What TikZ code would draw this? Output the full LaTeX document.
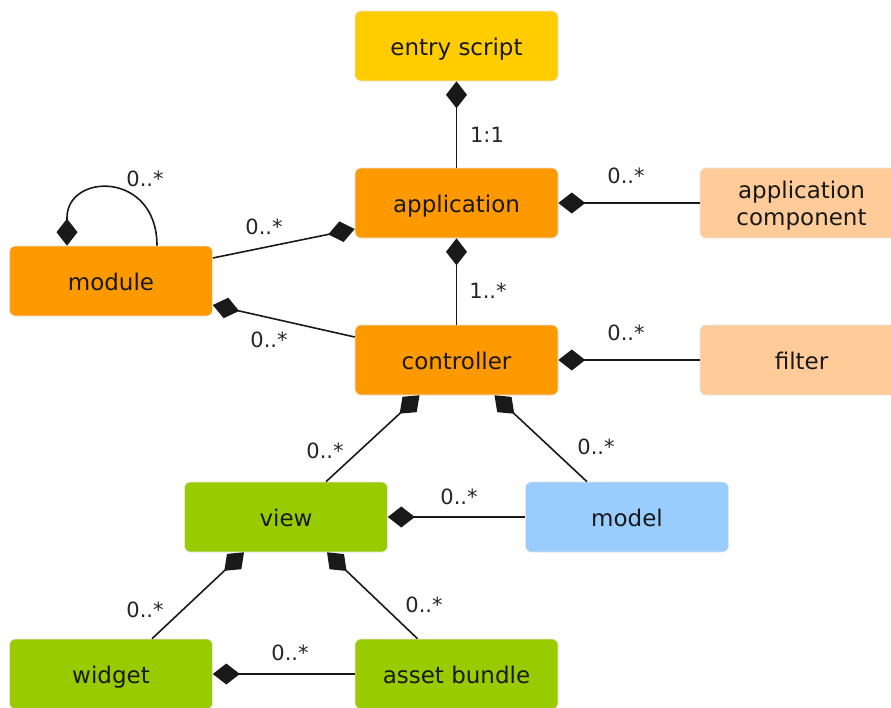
\documentclass[tikz,border=0pt]{standalone}
\usepackage{fontspec}
\setmainfont{DejaVu Sans}
\usetikzlibrary{arrows.meta}
\definecolor{cyellow}{HTML}{FFCC00}
\definecolor{corange}{HTML}{FF9900}
\definecolor{cpeach}{HTML}{FFCC99}
\definecolor{cgreen}{HTML}{99CC00}
\definecolor{cblue}{HTML}{99CCFF}
\begin{document}
\begin{tikzpicture}[x=1pt,y=-1pt,
  basebox/.style={rounded corners=6pt, minimum width=203pt, minimum height=70pt, inner sep=0pt,
    draw=black!10, line width=0.6pt, font=\fontsize{23}{27}\selectfont, text=black!90},
  box/.style={basebox, text height=19pt, text depth=0pt},
  lbl/.style={font=\fontsize{21}{24}\selectfont, inner sep=0pt, text=black!85},
  comp/.style={{Diamond[length=27pt,width=21pt]}-, line width=1.6pt, draw=black!90}]
\useasboundingbox (0,0) rectangle (891,707);
% boxes
\node[box, fill=cyellow] (entry) at (456.5,46) {entry script};
\node[box, fill=corange] (app) at (456.5,203) {application};
\node[basebox, fill=cpeach, align=center, text depth=0pt] (appcomp) at (801.5,203) {application\\component};
\node[box, fill=corange] (module) at (111,281) {module};
\node[box, fill=corange] (controller) at (456.5,360) {controller};
\node[box, fill=cpeach] (filter) at (801.5,360) {filter};
\node[box, fill=cgreen] (view) at (286,517) {view};
\node[box, fill=cblue] (model) at (627,517) {model};
\node[box, fill=cgreen] (widget) at (111,674) {widget};
\node[box, fill=cgreen] (asset) at (456.5,674) {asset bundle};
% connectors
\draw[comp] (entry.south) -- (app.north);
\draw[comp] (app.east) -- (appcomp.west);
\draw[comp] ([yshift=-26pt]app.west) -- ([yshift=23pt]module.east);
\draw[comp] ([xshift=-44pt]module.north) -- ++(0,-28) .. controls +(0,-45) and +(0,-75) .. ([xshift=46pt]module.north);
\draw[comp] ([yshift=-24pt]module.east) -- ([yshift=23pt]controller.west);
\draw[comp] (app.south) -- (controller.north);
\draw[comp] (controller.east) -- (filter.west);
\draw[comp] ([xshift=-37pt]controller.south) -- ([xshift=40pt]view.north);
\draw[comp] ([xshift=38pt]controller.south) -- ([xshift=-40pt]model.north);
\draw[comp] (view.east) -- (model.west);
\draw[comp] ([xshift=-42pt]view.south) -- ([xshift=41pt]widget.north);
\draw[comp] ([xshift=41pt]view.south) -- ([xshift=-39pt]asset.north);
\draw[comp] (widget.east) -- (asset.west);
% labels
\node[lbl] (l1) at (487,135) {1:1};
\node[lbl] (l2) at (626,176) {0..*};
\node[lbl] (l3) at (264,227) {0..*};
\node[lbl] (l4) at (145,179) {0..*};
\node[lbl] (l5) at (269,340) {0..*};
\node[lbl] (l6) at (488,291) {1..*};
\node[lbl] (l7) at (626,333) {0..*};
\node[lbl] (l8) at (325,451) {0..*};
\node[lbl] (l9) at (596,447) {0..*};
\node[lbl] (l10) at (459,497) {0..*};
\node[lbl] (l11) at (145,610) {0..*};
\node[lbl] (l12) at (424,605) {0..*};
\node[lbl] (l13) at (290,653) {0..*};
\end{tikzpicture}
\end{document}
